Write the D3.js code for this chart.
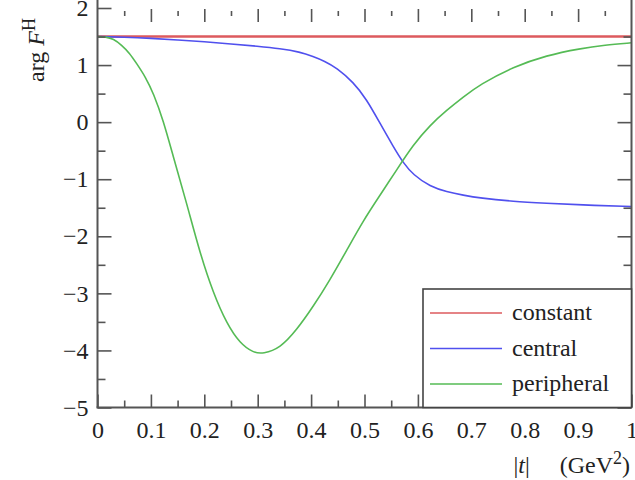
<!DOCTYPE html>
<html><head><meta charset="utf-8">
<script src="https://cdn.jsdelivr.net/npm/d3@7"></script>
<style>
html,body{margin:0;padding:0;background:#fff;}
text{font-family:"Liberation Serif","Times New Roman",serif;fill:#222;}
</style></head>
<body>
<svg id="chart" width="635" height="480"></svg>
<script>
// ---- data ----
const seriesNames = ["constant", "central", "peripheral"];
const seriesColors = ["#dd5a5e", "#5050ee", "#55bb55"];

const constantX = [0, 1];
const constantY = [1.5, 1.5];

const centralX = [0, 0.05, 0.1, 0.15, 0.2, 0.25, 0.3, 0.342, 0.379, 0.404, 0.425, 0.448, 0.479, 0.504, 0.529, 0.554, 0.573, 0.591, 0.623, 0.654, 0.685, 0.716, 0.779, 0.841, 0.904, 1.0];
const centralY = [1.5, 1.49, 1.47, 1.44, 1.41, 1.37, 1.33, 1.29, 1.23, 1.15, 1.07, 0.95, 0.70, 0.40, -0.02, -0.43, -0.72, -0.92, -1.13, -1.22, -1.28, -1.33, -1.39, -1.42, -1.45, -1.48];

const peripheralX = [0, 0.015, 0.03, 0.045, 0.06, 0.073, 0.09, 0.105, 0.123, 0.142, 0.167, 0.192, 0.217, 0.242, 0.267, 0.292, 0.31, 0.342, 0.373, 0.404, 0.435, 0.467, 0.498, 0.529, 0.56, 0.591, 0.623, 0.654, 0.685, 0.716, 0.779, 0.841, 0.904, 0.95, 1.0];
const peripheralY = [1.5, 1.495, 1.46, 1.35, 1.21, 1.03, 0.79, 0.50, 0.035, -0.61, -1.42, -2.30, -3.0, -3.53, -3.88, -4.04, -4.06, -3.96, -3.64, -3.23, -2.77, -2.24, -1.72, -1.28, -0.84, -0.40, -0.05, 0.21, 0.44, 0.66, 0.97, 1.17, 1.29, 1.35, 1.39];

const xMajorTicks = [0, 0.1, 0.2, 0.3, 0.4, 0.5, 0.6, 0.7, 0.8, 0.9, 1];
const xMinorTicks = [0.05, 0.15, 0.25, 0.35, 0.45, 0.55, 0.65, 0.75, 0.85, 0.95];
const yMajorTicks = [-5, -4, -3, -2, -1, 0, 1, 2];
const yMinorTicks = [-4.5, -3.5, -2.5, -1.5, -0.5, 0.5, 1.5];

// ---- layout ----
const svg = d3.select("#chart");
const x = d3.scaleLinear().domain([0, 1]).range([97.5, 631.5]);
const y = d3.scaleLinear().domain([-5, 2]).range([407.5, 8]);
const axisColor = "#555";

function styleAxis(g) {
  g.select(".domain").remove();
  g.selectAll(".tick line").attr("stroke", axisColor).attr("stroke-width", 1.6);
  g.selectAll(".tick text").style("font-family", "'Liberation Serif', serif").style("font-size", "24px").attr("fill", "#222");
}

// curves
const series = [
  {name: seriesNames[0], color: seriesColors[0], xs: constantX, ys: constantY, w: 2.6},
  {name: seriesNames[1], color: seriesColors[1], xs: centralX, ys: centralY, w: 1.6},
  {name: seriesNames[2], color: seriesColors[2], xs: peripheralX, ys: peripheralY, w: 1.6}
];
const line = d3.line().x(d => x(d[0])).y(d => y(d[1])).curve(d3.curveBasis);
series.forEach(s => {
  svg.append("path")
    .datum(s.xs.map((v, i) => [v, s.ys[i]]))
    .attr("fill", "none").attr("stroke", s.color).attr("stroke-width", s.w)
    .attr("d", line);
});

// axes: left
svg.append("g").attr("transform", `translate(${x(0)},0)`)
  .call(d3.axisLeft(y).tickValues(yMajorTicks).tickSizeInner(-14).tickSizeOuter(0).tickPadding(9).tickFormat(d3.format("d")))
  .call(styleAxis);
svg.append("g").attr("transform", `translate(${x(0)},0)`)
  .call(d3.axisLeft(y).tickValues(yMinorTicks).tickSizeInner(-8).tickSizeOuter(0).tickFormat(""))
  .call(styleAxis);
// right
svg.append("g").attr("transform", `translate(${x(1)},0)`)
  .call(d3.axisRight(y).tickValues(yMajorTicks.filter(v => v < 2)).tickSizeInner(-14).tickSizeOuter(0).tickFormat(""))
  .call(styleAxis);
svg.append("g").attr("transform", `translate(${x(1)},0)`)
  .call(d3.axisRight(y).tickValues(yMinorTicks).tickSizeInner(-8).tickSizeOuter(0).tickFormat(""))
  .call(styleAxis);
// bottom
svg.append("g").attr("transform", `translate(0,${y(-5)})`)
  .call(d3.axisBottom(x).tickValues(xMajorTicks).tickSizeInner(-13).tickSizeOuter(0).tickPadding(13).tickFormat(d3.format("")))
  .call(styleAxis);
svg.append("g").attr("transform", `translate(0,${y(-5)})`)
  .call(d3.axisBottom(x).tickValues(xMinorTicks).tickSizeInner(-7).tickSizeOuter(0).tickFormat(""))
  .call(styleAxis);
// top
svg.append("g").attr("transform", `translate(0,9)`)
  .call(d3.axisTop(x).tickValues(xMajorTicks.filter(v => v > 0 && v < 1)).tickSizeInner(-13).tickSizeOuter(0).tickFormat(""))
  .call(styleAxis);
svg.append("g").attr("transform", `translate(0,11)`)
  .call(d3.axisTop(x).tickValues(xMinorTicks).tickSizeInner(-5).tickSizeOuter(0).tickFormat(""))
  .call(styleAxis);

// frame lines
svg.append("line").attr("x1", x(0)).attr("x2", x(0)).attr("y1", 0).attr("y2", y(-5))
  .attr("stroke", axisColor).attr("stroke-width", 2);
svg.append("line").attr("x1", x(1)).attr("x2", x(1)).attr("y1", 0).attr("y2", y(-5))
  .attr("stroke", axisColor).attr("stroke-width", 2);
svg.append("line").attr("x1", x(0) - 1).attr("x2", x(1)).attr("y1", y(-5)).attr("y2", y(-5))
  .attr("stroke", axisColor).attr("stroke-width", 2);

// legend
const lg = svg.append("g");
lg.append("rect").attr("x", 423).attr("y", 289).attr("width", 208.5).attr("height", 118.5)
  .attr("fill", "#fff").attr("stroke", "#444").attr("stroke-width", 1.6);
series.forEach((s, i) => {
  const yy = 313 + i * 35.5;
  lg.append("line").attr("x1", 430).attr("x2", 502).attr("y1", yy).attr("y2", yy)
    .attr("stroke", s.color).attr("stroke-width", 1.4);
  lg.append("text").attr("x", 512).attr("y", yy + 7).style("font-size", "24px").text(s.name);
});

// axis titles
const yl = svg.append("text").attr("transform", "translate(44,82) rotate(-90)")
  .attr("text-anchor", "start").style("font-size", "24px");
yl.append("tspan").text("arg ");
yl.append("tspan").style("font-style", "italic").text("F");
yl.append("tspan").attr("dy", -9).style("font-size", "18px").text("H");

const xl = svg.append("text").attr("x", 630).attr("y", 473).attr("text-anchor", "end").style("font-size", "24px");
xl.append("tspan").text("|");
xl.append("tspan").style("font-style", "italic").text("t");
xl.append("tspan").text("|\u2003\u00a0(GeV");
xl.append("tspan").attr("dy", -9).style("font-size", "18px").text("2");
xl.append("tspan").attr("dy", 9).text(")");
</script>
</body></html>
